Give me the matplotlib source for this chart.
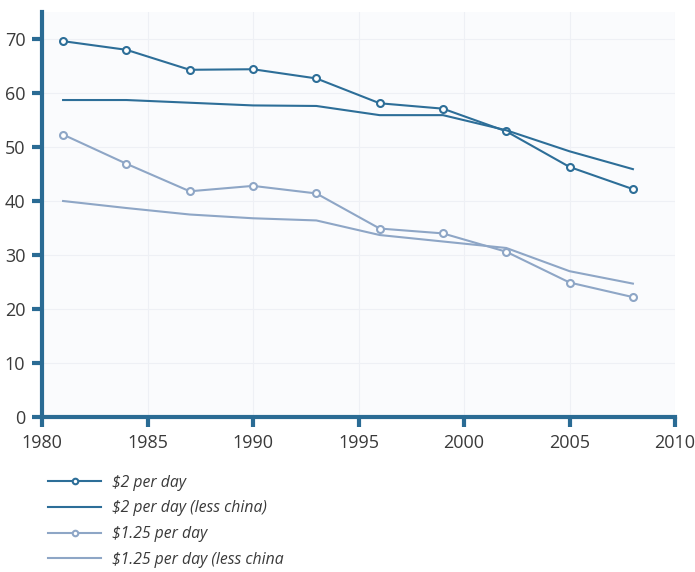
import numpy as np
import matplotlib.pyplot as plt
from matplotlib import rcParams

rcParams['font.family'] = ['Open Sans', 'DejaVu Sans']

"""
Poverty headcount series (% of population)
"""
years = [1981, 1984, 1987, 1990, 1993, 1996, 1999, 2002, 2005, 2008]
two_dollar = [69.6, 68.0, 64.3, 64.4, 62.7, 58.1, 57.1, 52.9, 46.3, 42.2]
two_dollar_nc = [58.7, 58.7, 58.2, 57.7, 57.6, 55.9, 55.9, 53.1, 49.2, 45.9]
one25_dollar = [52.3, 46.9, 41.8, 42.8, 41.4, 34.9, 34.0, 30.6, 24.9, 22.2]
one25_dollar_nc = [40.0, 38.7, 37.5, 36.8, 36.4, 33.7, 32.5, 31.3, 27.0, 24.7]

labels = [r'\$2 per day', r'\$2 per day (less china)',
          r'\$1.25 per day', r'\$1.25 per day (less china']

xticks = [1980, 1985, 1990, 1995, 2000, 2005, 2010]
yticks = [0, 10, 20, 30, 40, 50, 60, 70]

dark = '#2d6e98'
light = '#8ea6c6'
axis_col = '#2a6b94'

fig = plt.figure(figsize=(6.95, 5.72), dpi=100)
ax = fig.add_axes([0.0604, 0.271, 0.911, 0.708])
ax.set_facecolor('#fafbfd')

mk = dict(marker='o', markersize=5, markerfacecolor='white', markeredgewidth=1.5)
ax.plot(years, two_dollar, color=dark, lw=1.5, markeredgecolor=dark, label=labels[0], **mk)
ax.plot(years, two_dollar_nc, color=dark, lw=1.5, label=labels[1])
ax.plot(years, one25_dollar, color=light, lw=1.5, markeredgecolor=light, label=labels[2], **mk)
ax.plot(years, one25_dollar_nc, color=light, lw=1.5, label=labels[3])

ax.set_xlim(1980, 2010)
ax.set_ylim(0, 75)
ax.set_xticks(xticks)
ax.set_yticks(yticks)

# Adjust axes
ax.spines['top'].set_visible(False)
ax.spines['right'].set_visible(False)
ax.spines['left'].set_color(axis_col)
ax.spines['bottom'].set_color(axis_col)
ax.spines['left'].set_linewidth(3)
ax.spines['bottom'].set_linewidth(3)
ax.tick_params(axis='both', colors=axis_col, width=3, length=7,
               labelcolor='#3a3a3a', labelsize=13, pad=5)

ax.set_axisbelow(True)
ax.grid(True, color='#eef0f5', lw=0.8)

leg = ax.legend(loc='upper left', bbox_to_anchor=(0.069, 0.17), bbox_transform=fig.transFigure,
                frameon=False, handlelength=3.4, handletextpad=0.65, labelspacing=0.62,
                prop={'style': 'italic', 'size': 11.3}, labelcolor='#3a3a3a',
                borderaxespad=0, borderpad=0, markerscale=0.8)

fig.savefig('out.png', dpi=100)
